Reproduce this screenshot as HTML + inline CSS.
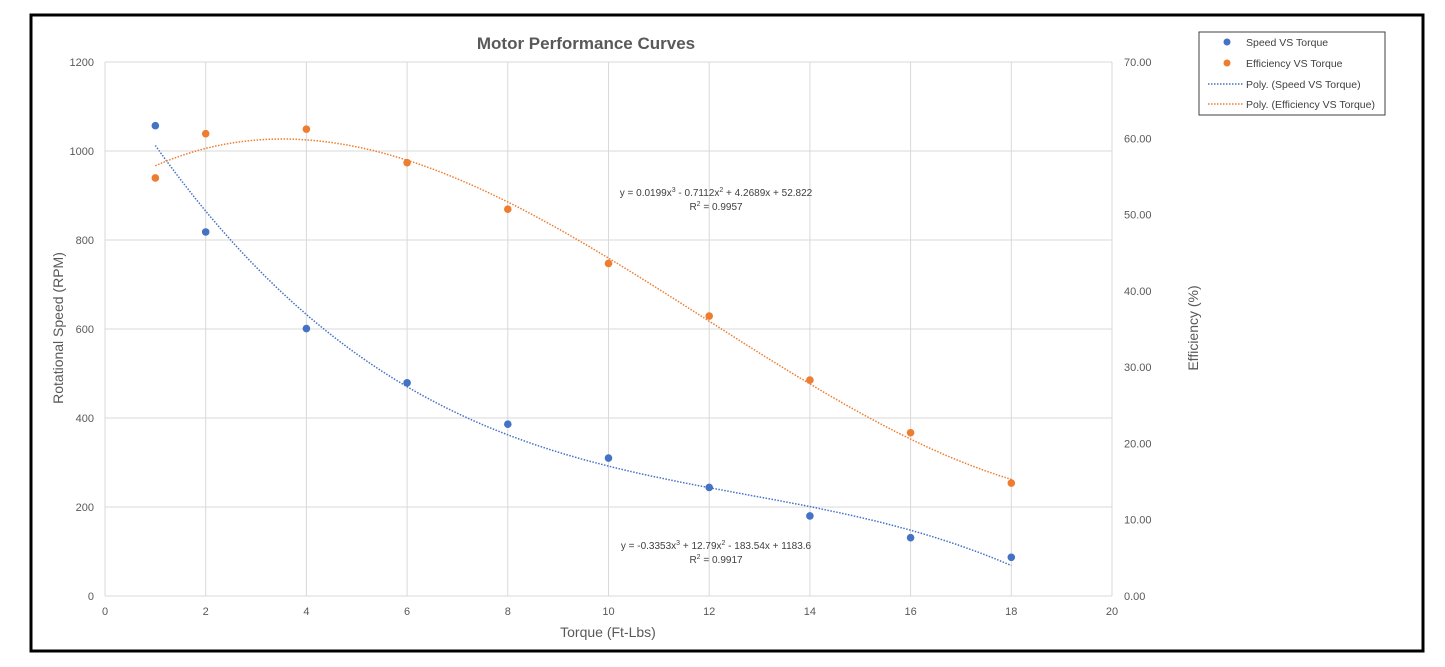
<!DOCTYPE html>
<html><head><style>
body{margin:0;background:#fff;}
svg{display:block;font-family:"Liberation Sans",sans-serif;}
</style></head><body>
<svg id="s" width="1445" height="667" xmlns="http://www.w3.org/2000/svg">
<rect x="31" y="15" width="1392" height="636" fill="#fff" stroke="#000" stroke-width="3"/>
<g id="grid" stroke="#d9d9d9" stroke-width="1"></g>
<text x="586" y="49" text-anchor="middle" font-size="17" font-weight="bold" fill="#595959">Motor Performance Curves</text>
<g id="lab" font-size="11" fill="#595959"></g>
<text transform="translate(63,328) rotate(-90)" text-anchor="middle" font-size="14" fill="#595959">Rotational Speed (RPM)</text>
<text transform="translate(1198,328) rotate(-90)" text-anchor="middle" font-size="14" fill="#595959">Efficiency (%)</text>
<text x="608" y="637" text-anchor="middle" font-size="14" fill="#595959">Torque (Ft-Lbs)</text>
<g id="curves"></g>
<g font-size="10" fill="#404040" text-anchor="middle">
<text x="716" y="196">y = 0.0199x<tspan font-size="7" dy="-4">3</tspan><tspan dy="4"> - 0.7112x</tspan><tspan font-size="7" dy="-4">2</tspan><tspan dy="4"> + 4.2689x + 52.822</tspan></text>
<text x="716" y="210">R<tspan font-size="7" dy="-4">2</tspan><tspan dy="4"> = 0.9957</tspan></text>
<text x="716" y="549">y = -0.3353x<tspan font-size="7" dy="-4">3</tspan><tspan dy="4"> + 12.79x</tspan><tspan font-size="7" dy="-4">2</tspan><tspan dy="4"> - 183.54x + 1183.6</tspan></text>
<text x="716" y="563">R<tspan font-size="7" dy="-4">2</tspan><tspan dy="4"> = 0.9917</tspan></text>
</g>
<rect x="1199" y="32" width="186" height="83" fill="#fff" stroke="#404040" stroke-width="1"/>
<circle cx="1227" cy="42" r="3.5" fill="#4472c4"/>
<circle cx="1227" cy="63" r="3.5" fill="#ed7d31"/>
<line x1="1208" y1="84" x2="1243" y2="84" stroke="#4472c4" stroke-width="1.5" stroke-dasharray="1.5,1.5"/>
<line x1="1208" y1="104" x2="1243" y2="104" stroke="#ed7d31" stroke-width="1.5" stroke-dasharray="1.5,1.5"/>
<g font-size="10.5" fill="#404040">
<text x="1246" y="46">Speed VS Torque</text>
<text x="1246" y="67">Efficiency VS Torque</text>
<text x="1246" y="88">Poly. (Speed VS Torque)</text>
<text x="1246" y="108">Poly. (Efficiency VS Torque)</text>
</g>
</svg>
<script>
var NS="http://www.w3.org/2000/svg";
var X0=105,X1=1112,Y0=596,Y1=62;
function px(x){return X0+(X1-X0)*x/20}
function pyL(v){return Y0-(Y0-Y1)*v/1200}
function pyR(v){return Y0-(Y0-Y1)*v/70}
function el(p,t,a,txt){var e=document.createElementNS(NS,t);for(var k in a)e.setAttribute(k,a[k]);if(txt!=null)e.textContent=txt;p.appendChild(e);return e}
var g=document.getElementById('grid'),lab=document.getElementById('lab'),c=document.getElementById('curves');
for(var i=0;i<=10;i++){var x=px(i*2);el(g,'line',{x1:x,y1:Y1,x2:x,y2:Y0});el(lab,'text',{x:x,y:Y0+19,'text-anchor':'middle'},String(i*2));}
for(var j=0;j<=6;j++){var y=pyL(j*200);el(g,'line',{x1:X0,y1:y,x2:X1,y2:y});el(lab,'text',{x:X0-11,y:y+4,'text-anchor':'end'},String(j*200));}
for(var k=0;k<=7;k++){var y2=pyR(k*10);el(lab,'text',{x:X1+12,y:y2+4},(k*10).toFixed(2));}
function curve(f,py,col){var pts=[];for(var x=1;x<=18.001;x+=0.1)pts.push(px(x).toFixed(1)+','+py(f(x)).toFixed(1));el(c,'polyline',{points:pts.join(' '),fill:'none',stroke:col,'stroke-width':1.5,'stroke-dasharray':'1.5,1.5'});}
curve(function(x){return -0.3353*x*x*x+12.79*x*x-183.54*x+1183.6},pyL,'#4472c4');
curve(function(x){return 0.0199*x*x*x-0.7112*x*x+4.2689*x+52.822},pyR,'#ed7d31');
var sp=[[1,1057],[2,818],[4,601],[6,479],[8,386],[10,310],[12,244],[14,180],[16,131],[18,87]];
var ef=[[1,54.8],[2,60.6],[4,61.2],[6,56.8],[8,50.7],[10,43.6],[12,36.7],[14,28.3],[16,21.4],[18,14.8]];
sp.forEach(function(p){el(c,'circle',{cx:px(p[0]),cy:pyL(p[1]),r:3.8,fill:'#4472c4'})});
ef.forEach(function(p){el(c,'circle',{cx:px(p[0]),cy:pyR(p[1]),r:3.8,fill:'#ed7d31'})});
</script>
</body></html>
